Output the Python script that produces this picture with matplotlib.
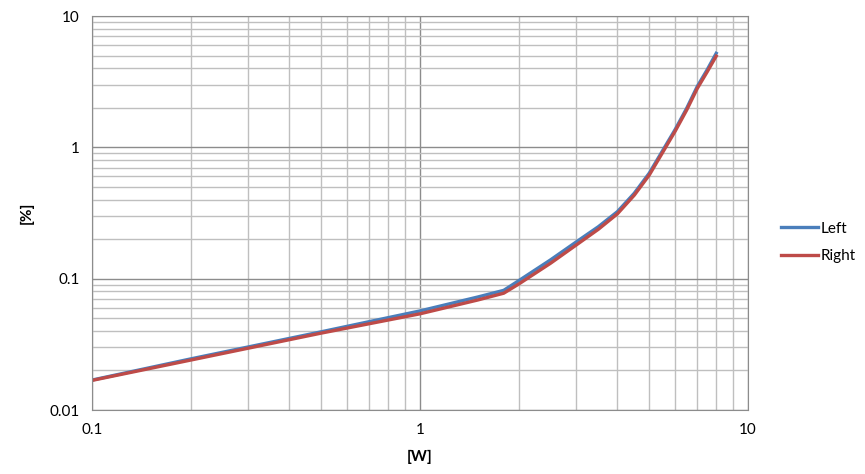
import numpy as np
import matplotlib
matplotlib.use("Agg")
import matplotlib.pyplot as plt
from matplotlib.ticker import FixedLocator, LogLocator, NullFormatter

# data
power_w = [0.1, 0.2, 0.5, 1.0, 1.5, 1.8, 2.0, 2.5, 3.0, 3.5, 4.0, 4.5, 5.0, 5.5, 6.0, 6.5, 7.0, 7.5, 8.0]
thd_left = [0.0169, 0.0245, 0.0394, 0.0568, 0.0725, 0.0815, 0.0965, 0.139, 0.191, 0.249,
            0.324, 0.447, 0.636, 0.95, 1.37, 1.98, 2.90, 3.88, 5.20]
thd_right = [0.0168, 0.0240, 0.0385, 0.0540, 0.0688, 0.0775, 0.0910, 0.131, 0.181, 0.238,
             0.312, 0.432, 0.615, 0.92, 1.33, 1.92, 2.80, 3.74, 4.95]

plt.rcParams['font.family'] = ['Lato', 'DejaVu Sans']

fig = plt.figure(figsize=(8.65, 4.74), dpi=100)
ax = fig.add_axes([92/865, 1-410/474, (748-92)/865, (410-16)/474])

ax.plot(power_w, thd_left, color='#4a7ebb', lw=2.4, label='Left', solid_joinstyle='round')
ax.plot(power_w, thd_right, color='#be4b48', lw=2.4, label='Right', solid_joinstyle='round')

ax.set_xscale('log')
ax.set_yscale('log')
ax.set_xlim(0.1, 10)
ax.set_ylim(0.01, 10)

ax.xaxis.set_major_locator(FixedLocator([0.1, 1, 10]))
ax.yaxis.set_major_locator(FixedLocator([0.01, 0.1, 1, 10]))
ax.set_xticklabels(['0.1', '1', '10'])
ax.set_yticklabels(['0.01', '0.1', '1', '10'])
ax.xaxis.set_minor_locator(LogLocator(base=10, subs=np.arange(2, 10)))
ax.yaxis.set_minor_locator(LogLocator(base=10, subs=np.arange(2, 10)))
ax.xaxis.set_minor_formatter(NullFormatter())
ax.yaxis.set_minor_formatter(NullFormatter())

ax.grid(which='major', color='#8c8c8c', lw=1.0)
ax.grid(which='minor', color='#bfbfbf', lw=1.0)
ax.set_axisbelow(True)
ax.tick_params(which='both', length=0, labelsize=11, pad=9)
for s in ax.spines.values():
    s.set_color('#8c8c8c')

ax.set_xlabel('[W]', fontsize=11, fontweight='bold', va='center')
ax.set_ylabel('[%]', fontsize=11, fontweight='bold', va='center')
ax.xaxis.set_label_coords(0.5, -0.119)
ax.yaxis.set_label_coords(-0.099, 0.5)

ax.legend(loc='center left', bbox_to_anchor=(1.03, 0.425), frameon=False,
          fontsize=11, handlelength=2.4, handletextpad=0.15, labelspacing=0.9)

fig.savefig('out.png', dpi=100)
